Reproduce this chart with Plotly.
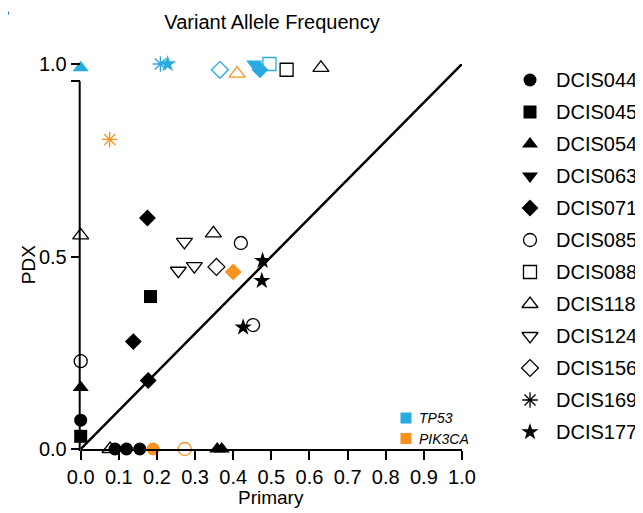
import plotly.graph_objects as go

BLACK = "#000000"
BLUE = "#29ABE2"
ORANGE = "#F7931E"

samples = ["DCIS044", "DCIS045", "DCIS054", "DCIS063", "DCIS071", "DCIS085",
           "DCIS088", "DCIS118", "DCIS124", "DCIS156", "DCIS169", "DCIS177"]
symbols = ["circle", "square", "triangle-up", "triangle-down", "diamond", "circle-open",
           "square-open", "triangle-up-open", "triangle-down-open", "diamond-open",
           "asterisk-open", "star"]

# Primary VAF, PDX VAF and mutated gene per point, for each sample
primary = {
    "DCIS044": [0.0, 0.09, 0.12, 0.155, 0.19],
    "DCIS045": [0.0, 0.183],
    "DCIS054": [0.0, 0.0, 0.358, 0.37],
    "DCIS063": [0.455],
    "DCIS071": [0.47, 0.175, 0.138, 0.177, 0.40],
    "DCIS085": [0.0, 0.42, 0.452, 0.273],
    "DCIS088": [0.495, 0.54],
    "DCIS118": [0.0, 0.348, 0.41, 0.63, 0.077],
    "DCIS124": [0.272, 0.256, 0.298],
    "DCIS156": [0.356, 0.365],
    "DCIS169": [0.209, 0.076],
    "DCIS177": [0.228, 0.477, 0.475, 0.426],
}
pdx = {
    "DCIS044": [0.075, 0.0, 0.0, 0.0, 0.0],
    "DCIS045": [0.033, 0.396],
    "DCIS054": [0.99, 0.16, 0.0, 0.0],
    "DCIS063": [1.0],
    "DCIS071": [0.985, 0.60, 0.279, 0.178, 0.46],
    "DCIS085": [0.228, 0.535, 0.322, 0.0],
    "DCIS088": [1.0, 0.985],
    "DCIS118": [0.555, 0.56, 0.975, 0.99, 0.0],
    "DCIS124": [0.538, 0.463, 0.475],
    "DCIS156": [0.473, 0.985],
    "DCIS169": [1.0, 0.804],
    "DCIS177": [1.0, 0.489, 0.437, 0.316],
}
gene = {
    "DCIS044": ["none", "none", "none", "none", "PIK3CA"],
    "DCIS045": ["none", "none"],
    "DCIS054": ["TP53", "none", "none", "none"],
    "DCIS063": ["TP53"],
    "DCIS071": ["TP53", "none", "none", "none", "PIK3CA"],
    "DCIS085": ["none", "none", "none", "PIK3CA"],
    "DCIS088": ["TP53", "none"],
    "DCIS118": ["none", "none", "PIK3CA", "none", "none"],
    "DCIS124": ["none", "none", "none"],
    "DCIS156": ["none", "TP53"],
    "DCIS169": ["TP53", "PIK3CA"],
    "DCIS177": ["TP53", "none", "none", "none"],
}
gene_colors = {"none": BLACK, "TP53": BLUE, "PIK3CA": ORANGE}
gene_names = ["TP53", "PIK3CA"]

diag_x = [0, 1]
diag_y = [0, 1]

x_ticks = [0, 0.1, 0.2, 0.3, 0.4, 0.5, 0.6, 0.7, 0.8, 0.9, 1.0]
y_ticks = [0, 0.5, 0.955, 1.0]
y_ticktext = ["0.0", "0.5", "", "1.0"]
y_axis_end = 0.955

FONT = "Liberation Sans, Arial, sans-serif"

# ---- page geometry (pixels inside the figure) ----
W, H = 635, 505
PX_L, PX_R = 72.7, 454.0     # x = 0 and x = 1
PX_T, PX_B = 56.0, 441.0     # y = 1 and y = 0
LEG_MARK_X, LEG_TEXT_X = 522, 546
LEG_TOP, LEG_PITCH = 72, 32
GLEG_MARK_X, GLEG_TEXT_X = 398, 409
GLEG_TOP, GLEG_PITCH = 410, 20.5
AXIS_W = 2.0


def marker_size(sym):
    if "triangle" in sym:
        return 14
    return 13


fig = go.Figure()

fig.add_trace(go.Scatter(x=diag_x, y=diag_y, mode="lines",
                         line=dict(color="black", width=2.5),
                         showlegend=False, hoverinfo="skip"))

for s, sym in zip(samples, symbols):
    cols = [gene_colors[g] for g in gene[s]]
    is_open = sym.endswith("-open")
    fig.add_trace(go.Scatter(
        x=primary[s], y=pdx[s], mode="markers", cliponaxis=False,
        marker=dict(symbol=sym, size=marker_size(sym), color=cols,
                    line=dict(color=cols, width=1.3 if is_open else 0)),
        showlegend=False, name=s, hoverinfo="x+y+name"))

# ---- y axis line, ending just below 1.0 as in the reference (pixel overlay) ----
y_end_px = PX_B - y_axis_end * (PX_B - PX_T)
shapes = [dict(type="line", xref="x2", yref="y2", x0=PX_L - AXIS_W / 2, x1=PX_L - AXIS_W / 2,
               y0=PX_B + AXIS_W, y1=y_end_px, line=dict(color="black", width=AXIS_W),
               layer="below")]

# ---- legends drawn on a hidden pixel-space overlay ----
annotations = []
for i, (s, sym) in enumerate(zip(samples, symbols)):
    is_open = sym.endswith("-open")
    yrow = LEG_TOP + LEG_PITCH * i
    fig.add_trace(go.Scatter(
        x=[LEG_MARK_X], y=[yrow], xaxis="x2", yaxis="y2", mode="markers",
        marker=dict(symbol=sym, size=marker_size(sym), color="black",
                    line=dict(color="black", width=1.3 if is_open else 0)),
        showlegend=False, hoverinfo="skip", cliponaxis=False))
    annotations.append(dict(text=s, xref="x2", yref="y2", x=LEG_TEXT_X, y=yrow,
                            xanchor="left", yanchor="middle", showarrow=False,
                            font=dict(size=20, family=FONT, color="black")))

for i, g in enumerate(gene_names):
    yrow = GLEG_TOP + GLEG_PITCH * i
    fig.add_trace(go.Scatter(
        x=[GLEG_MARK_X], y=[yrow], xaxis="x2", yaxis="y2", mode="markers",
        marker=dict(symbol="square", size=11, color=gene_colors[g]),
        showlegend=False, hoverinfo="skip", cliponaxis=False))
    annotations.append(dict(text="<i>%s</i>" % g, xref="x2", yref="y2",
                            x=GLEG_TEXT_X, y=yrow, xanchor="left", yanchor="middle",
                            showarrow=False,
                            font=dict(size=14, family=FONT, color="black")))

# axis titles (centred on the drawn axis lines) and panel letter
annotations.append(dict(text="PDX", xref="x2", yref="y2", x=20, y=(y_end_px + PX_B) / 2,
                        textangle=-90, showarrow=False, xanchor="center", yanchor="middle",
                        font=dict(size=19, family=FONT, color="black")))
annotations.append(dict(text="Primary", xref="x2", yref="y2", x=(PX_L + PX_R) / 2,
                        y=489, showarrow=False, xanchor="center", yanchor="middle",
                        font=dict(size=19, family=FONT, color="black")))
annotations.append(dict(text="<b>B</b>", xref="x2", yref="y2", x=3, y=2,
                        showarrow=False, xanchor="right", yanchor="middle",
                        font=dict(size=20, family=FONT, color="black")))

fig.update_layout(
    width=W, height=H,
    margin=dict(l=0, r=0, t=0, b=0, autoexpand=False),
    paper_bgcolor="white", plot_bgcolor="rgba(0,0,0,0)",
    font=dict(family=FONT, size=20, color="black"),
    showlegend=False,
    title=dict(text="Variant Allele Frequency", x=264 / W, xanchor="center",
               y=1 - 14 / H, yanchor="middle", font=dict(size=20, family=FONT)),
    xaxis=dict(domain=[PX_L / W, PX_R / W], range=[0, 1],
               tickvals=x_ticks, tickformat=".1f",
               showline=True, linecolor="black", linewidth=AXIS_W,
               ticks="outside", ticklen=9, tickwidth=AXIS_W, tickcolor="black",
               showgrid=False, zeroline=False, anchor="y"),
    yaxis=dict(domain=[1 - PX_B / H, 1 - PX_T / H], range=[0, 1],
               tickvals=y_ticks, ticktext=y_ticktext,
               showline=False,
               ticks="outside", ticklen=9, tickwidth=AXIS_W, tickcolor="black",
               showgrid=False, zeroline=False, anchor="x"),
    xaxis2=dict(domain=[0, 1], range=[0, W], visible=False, anchor="y2",
                fixedrange=True),
    yaxis2=dict(domain=[0, 1], range=[H, 0], visible=False, anchor="x2",
                fixedrange=True),
    shapes=shapes,
    annotations=annotations,
)

fig.write_html("out.html")
